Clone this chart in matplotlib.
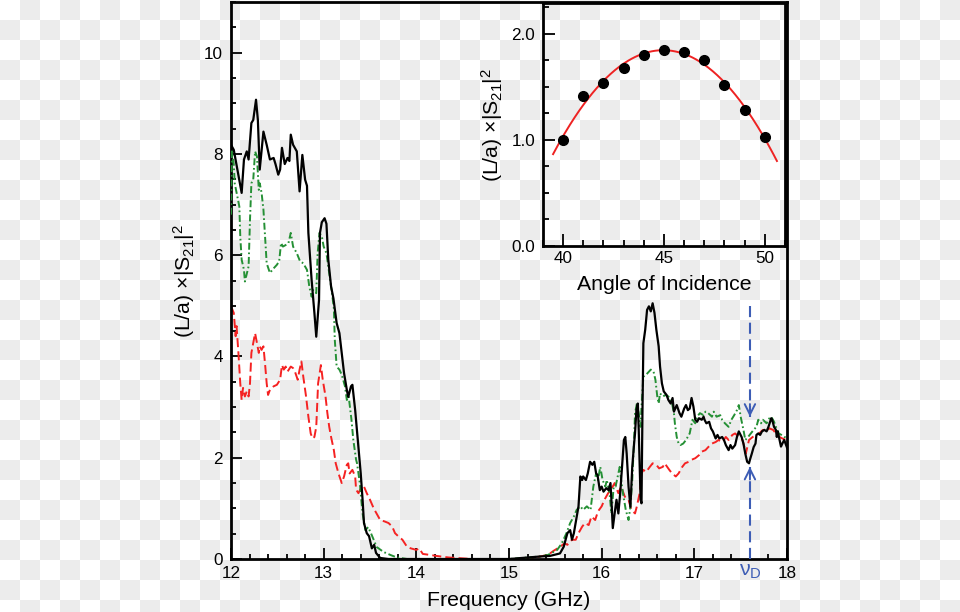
import numpy as np
import matplotlib
matplotlib.use("Agg")
import matplotlib.pyplot as plt
from matplotlib.ticker import MultipleLocator, FormatStrFormatter

plt.rcParams['font.family'] = ['Liberation Sans', 'DejaVu Sans']
plt.rcParams['mathtext.fontset'] = 'custom'
plt.rcParams['mathtext.rm'] = 'Liberation Sans'
plt.rcParams['mathtext.it'] = 'Liberation Sans:italic'
plt.rcParams['lines.scale_dashes'] = False

# ---------------- data ----------------
black_f = [12.00, 12.03, 12.115, 12.14, 12.17, 12.19, 12.22, 12.24, 12.27, 12.29, 12.31, 12.35, 12.385,
           12.42, 12.46, 12.48, 12.51, 12.53, 12.55, 12.58, 12.61, 12.63, 12.645, 12.67, 12.71, 12.74,
           12.77, 12.80, 12.82, 12.835, 12.87, 12.90, 12.92, 12.95, 12.96, 12.98, 13.01, 13.03, 13.05,
           13.08, 13.105, 13.14, 13.17, 13.195, 13.22, 13.25, 13.265, 13.295, 13.31, 13.34, 13.375,
           13.40, 13.42, 13.435, 13.465, 13.49, 13.52, 13.545, 13.565, 13.61, 13.70, 14.50, 15.00,
           15.34, 15.44, 15.55, 15.59, 15.62, 15.63, 15.66, 15.68, 15.70, 15.725, 15.75, 15.77, 15.79,
           15.80, 15.83, 15.85, 15.875, 15.90, 15.92, 15.94, 15.955, 15.98, 16.00, 16.02, 16.05, 16.075,
           16.095, 16.105, 16.12, 16.14, 16.16, 16.18, 16.20, 16.22, 16.24, 16.255, 16.27, 16.29, 16.31,
           16.33, 16.35, 16.36, 16.375, 16.39, 16.40, 16.42, 16.43, 16.44, 16.45, 16.47, 16.49, 16.51,
           16.53, 16.55, 16.57, 16.59, 16.615, 16.63, 16.65, 16.67, 16.70, 16.72, 16.745, 16.765, 16.78,
           16.81, 16.84, 16.86, 16.89, 16.91, 16.93, 16.95, 16.97, 16.99, 17.01, 17.03, 17.05, 17.08,
           17.10, 17.11, 17.13, 17.16, 17.18, 17.20, 17.23, 17.25, 17.27, 17.30, 17.32, 17.34, 17.37,
           17.39, 17.41, 17.44, 17.46, 17.48, 17.51, 17.53, 17.55, 17.57, 17.59, 17.60, 17.62, 17.64,
           17.66, 17.67, 17.69, 17.71, 17.73, 17.755, 17.78, 17.80, 17.83, 17.84, 17.86, 17.88, 17.89,
           17.90, 17.935, 17.95, 17.97, 17.99, 18.00]
black_v = [8.18, 8.08, 7.23, 7.89, 8.05, 7.89, 8.61, 8.67, 9.07, 8.67, 7.69, 8.44, 8.18,
           7.89, 7.92, 7.80, 7.59, 7.69, 8.12, 7.80, 7.92, 7.86, 8.38, 8.18, 8.05, 7.26,
           7.98, 7.49, 7.37, 6.44, 5.51, 4.86, 4.39, 5.12, 6.44, 6.65, 6.73, 6.62, 5.91,
           5.38, 5.15, 4.66, 4.46, 4.07, 3.67, 3.34, 3.20, 3.41, 3.44, 2.94, 2.22,
           1.69, 1.17, 0.71, 0.51, 0.45, 0.21, 0.28, 0.12, 0.02, 0.00, 0.00, 0.00,
           0.05, 0.06, 0.11, 0.24, 0.44, 0.51, 0.57, 0.38, 0.51, 0.77, 1.04, 1.63, 1.56,
           1.63, 1.56, 1.69, 1.92, 1.86, 1.92, 1.69, 1.66, 1.36, 1.43, 1.33, 1.40, 1.36,
           1.50, 1.17, 0.61, 0.90, 1.17, 0.90, 1.30, 1.82, 2.35, 2.41, 2.08, 1.43, 1.03,
           1.82, 2.28, 2.48, 2.94, 3.07, 2.54, 1.17, 1.10, 2.88, 4.26, 4.53, 4.92, 4.99,
           4.89, 5.05, 4.86, 4.53, 4.20, 3.80, 3.47, 3.31, 3.24, 3.14, 3.07, 3.18, 2.91,
           3.04, 2.88, 2.81, 2.97, 3.04, 2.94, 2.97, 3.18, 3.01, 2.75, 2.71, 2.78, 2.75,
           2.81, 2.75, 2.68, 2.71, 2.58, 2.52, 2.38, 2.45, 2.38, 2.41, 2.35, 2.25, 2.15,
           2.25, 2.18, 2.25, 2.41, 2.52, 2.41, 2.28, 2.08, 1.92, 1.89, 1.96, 2.08, 2.21,
           2.28, 2.45, 2.48, 2.45, 2.52, 2.55, 2.52, 2.61, 2.78, 2.75, 2.61, 2.55, 2.41,
           2.52, 2.22, 2.28, 2.35, 2.25, 2.20]

green_f = [12.00, 12.01, 12.03, 12.04, 12.09, 12.10, 12.115, 12.14, 12.15, 12.19, 12.205, 12.22, 12.24,
           12.26, 12.28, 12.30, 12.31, 12.33, 12.35, 12.37, 12.385, 12.42, 12.46, 12.495, 12.52, 12.54,
           12.56, 12.60, 12.62, 12.645, 12.67, 12.71, 12.745, 12.78, 12.82, 12.845, 12.87, 12.885, 12.92,
           12.935, 12.955, 12.98, 13.00, 13.03, 13.05, 13.09, 13.11, 13.12, 13.14, 13.17, 13.195, 13.23,
           13.25, 13.27, 13.30, 13.32, 13.35, 13.36, 13.39, 13.42, 13.45, 13.48, 13.51, 13.54, 13.57,
           13.645, 13.72, 13.79, 13.90, 15.00, 15.34, 15.42, 15.52, 15.57, 15.62, 15.66, 15.70, 15.73,
           15.77, 15.80, 15.84, 15.88, 15.91, 15.94, 15.96, 15.985, 16.01, 16.04, 16.055, 16.085, 16.105,
           16.13, 16.15, 16.18, 16.195, 16.21, 16.23, 16.26, 16.29, 16.31, 16.33, 16.35, 16.36, 16.38,
           16.40, 16.42, 16.43, 16.45, 16.48, 16.51, 16.53, 16.56, 16.58, 16.60, 16.615, 16.63, 16.66,
           16.69, 16.72, 16.76, 16.78, 16.79, 16.81, 16.83, 16.85, 16.88, 16.91, 16.95, 16.98, 17.01,
           17.03, 17.06, 17.10, 17.12, 17.15, 17.19, 17.21, 17.24, 17.28, 17.30, 17.33, 17.37, 17.40,
           17.43, 17.46, 17.48, 17.50, 17.53, 17.55, 17.58, 17.61, 17.64, 17.67, 17.69, 17.72, 17.74,
           17.78, 17.81, 17.83, 17.86, 17.88, 17.91, 17.94, 17.97, 18.00]
green_v = [6.80, 8.05, 7.80, 7.42, 6.96, 6.37, 5.91, 5.71, 5.48, 5.78, 6.70, 7.42, 7.49,
           8.05, 7.95, 7.29, 7.42, 7.23, 6.90, 6.30, 5.84, 5.65, 5.74, 5.81, 5.88, 6.24,
           6.17, 6.21, 6.24, 6.44, 6.17, 6.04, 5.88, 5.84, 5.71, 5.38, 5.18, 5.31, 5.25,
           6.04, 6.44, 6.37, 6.17, 6.04, 5.78, 5.25, 4.95, 4.33, 3.80, 3.74, 3.64, 3.41,
           3.14, 3.21, 2.75, 2.35, 1.96, 1.89, 1.50, 0.90, 0.57, 0.63, 0.51, 0.38, 0.24,
           0.14, 0.08, 0.03, 0.00, 0.00, 0.05, 0.08, 0.18, 0.31, 0.51, 0.71, 0.84, 0.97,
           1.04, 0.97, 1.04, 0.97, 1.43, 1.69, 1.56, 1.82, 1.56, 1.43, 1.56, 1.30, 0.90,
           1.43, 1.43, 1.69, 1.82, 1.56, 1.30, 0.97, 0.77, 1.04, 1.56, 2.35, 2.88, 3.07,
           2.88, 2.61, 3.01, 3.60, 3.64, 3.70, 3.74, 3.70, 3.54, 3.21, 3.07, 3.27, 3.21,
           3.24, 3.21, 3.07, 2.88, 2.68, 2.41, 2.28, 2.25, 2.28, 2.35, 2.48, 2.75, 2.68,
           2.81, 2.88, 2.84, 2.91, 2.88, 2.81, 2.91, 2.81, 2.84, 2.75, 2.68, 2.61, 2.75,
           2.84, 2.94, 3.04, 2.81, 2.55, 2.35, 2.41, 2.48, 2.55, 2.61, 2.75, 2.68, 2.75,
           2.68, 2.78, 2.81, 2.71, 2.61, 2.48, 2.45, 2.41, 2.40]

red_f = [12.00, 12.03, 12.05, 12.06, 12.08, 12.10, 12.115, 12.13, 12.15, 12.17, 12.19, 12.205, 12.22,
         12.24, 12.26, 12.28, 12.30, 12.31, 12.33, 12.35, 12.37, 12.385, 12.40, 12.42, 12.46, 12.495,
         12.53, 12.55, 12.57, 12.59, 12.61, 12.645, 12.67, 12.69, 12.72, 12.74, 12.76, 12.78, 12.81,
         12.835, 12.86, 12.88, 12.90, 12.92, 12.94, 12.97, 12.99, 13.02, 13.04, 13.06, 13.08, 13.11,
         13.13, 13.16, 13.195, 13.22, 13.25, 13.265, 13.28, 13.31, 13.34, 13.35, 13.375, 13.41, 13.435,
         13.465, 13.50, 13.54, 13.57, 13.61, 13.66, 13.70, 13.74, 13.77, 13.81, 13.85, 13.90, 13.94,
         14.00, 14.03, 14.07, 14.15, 14.22, 14.35, 14.60, 15.20, 15.34, 15.42, 15.48, 15.55, 15.60,
         15.63, 15.68, 15.72, 15.75, 15.79, 15.82, 15.86, 15.89, 15.93, 15.96, 16.00, 16.03, 16.07,
         16.11, 16.14, 16.18, 16.21, 16.25, 16.29, 16.32, 16.36, 16.38, 16.41, 16.43, 16.45, 16.48,
         16.52, 16.55, 16.59, 16.62, 16.66, 16.68, 16.73, 16.76, 16.80, 16.83, 16.87, 16.90, 16.94,
         16.97, 17.01, 17.05, 17.08, 17.12, 17.15, 17.19, 17.23, 17.26, 17.30, 17.34, 17.37, 17.41,
         17.44, 17.48, 17.52, 17.54, 17.555, 17.59, 17.63, 17.67, 17.70, 17.74, 17.77, 17.81, 17.85,
         17.88, 17.92, 17.95, 17.99]
red_v = [4.99, 4.86, 4.40, 4.60, 4.07, 3.47, 3.14, 3.38, 3.21, 3.31, 3.21, 3.47, 4.07,
         4.26, 4.46, 4.26, 4.07, 4.20, 4.13, 4.20, 3.80, 3.47, 3.24, 3.34, 3.41, 3.44,
         3.54, 3.83, 3.74, 3.80, 3.70, 3.80, 3.77, 3.70, 3.54, 3.74, 3.90, 3.60, 3.21,
         2.81, 2.48, 2.38, 2.41, 2.61, 3.47, 3.83, 3.54, 3.21, 2.88, 2.61, 2.41, 2.15,
         1.89, 1.69, 1.50, 1.63, 1.86, 1.89, 1.69, 1.76, 1.63, 1.37, 1.30, 1.43, 1.43,
         1.30, 1.17, 1.00, 0.90, 0.77, 0.74, 0.71, 0.64, 0.51, 0.44, 0.38, 0.24, 0.21,
         0.18, 0.21, 0.10, 0.08, 0.06, 0.03, 0.00, 0.00, 0.05, 0.08, 0.16, 0.24, 0.31,
         0.28, 0.38, 0.38, 0.51, 0.64, 0.71, 0.67, 0.84, 0.77, 0.94, 1.04, 1.17, 1.30,
         1.40, 1.50, 1.30, 1.43, 1.23, 1.17, 0.97, 0.90, 1.04, 1.30, 1.69, 1.76, 1.72,
         1.82, 1.89, 1.86, 1.79, 1.82, 1.89, 1.76, 1.69, 1.63, 1.69, 1.82, 1.89, 1.92,
         1.96, 1.99, 2.05, 2.12, 2.15, 2.21, 2.28, 2.31, 2.35, 2.31, 2.41, 2.35, 2.45,
         2.48, 2.41, 2.35, 2.21, 2.08, 2.35, 2.41, 2.45, 2.48, 2.55, 2.52, 2.58, 2.55,
         2.48, 2.41, 2.38, 2.35]

# inset: peak transmission vs angle of incidence
angles = [40, 41, 42, 43, 44, 45, 46, 47, 48, 49, 50]
peak_vals = [1.00, 1.415, 1.535, 1.68, 1.80, 1.85, 1.83, 1.75, 1.515, 1.28, 1.03]
fit_range = [39.5, 50.6]

# annotation: Dirac frequency marker
nu_d = 17.6
upper_arrow = [5.0, 2.81]
lower_arrow = [0.0, 1.82]

x_ticks = [12, 13, 14, 15, 16, 17, 18]
y_ticks = [0, 2, 4, 6, 8, 10]
inset_xticks = [40, 45, 50]
inset_yticks = [0.0, 1.0, 2.0]

ylabel_text = '(L/a) ×|S$_{\\mathregular{21}}$|$^{\\mathregular{2}}$'

TICK_FS = 12.3
LABEL_FS = 15.3

# ---------------- figure ----------------
W, H = 960, 612
fig = plt.figure(figsize=(W / 100, H / 100), dpi=100)
rows = np.arange(H) // 20
cols = np.arange(W) // 20
mask = (rows[:, None] + cols[None, :]) % 2 == 1
bg = np.full((H, W, 3), 255, dtype=np.uint8)
bg[mask] = 236
fig.figimage(bg, xo=0, yo=0, origin='upper', zorder=-10)

ax = fig.add_axes([231 / W, 53 / H, 556 / W, 557 / H])
ax.set_facecolor('none')
ax.set_zorder(1)

ax.plot(red_f, red_v, color='#f52222', lw=1.4, dashes=(6.5, 3), zorder=2)
ax.plot(green_f, green_v, color='#259035', lw=1.4, dashes=(5, 2, 1.2, 2), zorder=3)
ax.plot(black_f, black_v, color='black', lw=1.6, zorder=4)

ax.set_xlim(12, 18)
ax.set_ylim(0, 11)
ax.set_xticks(x_ticks)
ax.set_yticks(y_ticks)
ax.xaxis.set_minor_locator(MultipleLocator(0.2))
ax.yaxis.set_minor_locator(MultipleLocator(0.5))
ax.tick_params(which='both', direction='in', top=False, right=False, labelsize=TICK_FS, width=1.3)
ax.tick_params(which='major', length=8)
ax.tick_params(which='minor', length=3.8)
ax.tick_params(axis='x', pad=5)
ax.tick_params(axis='y', pad=6)
for sp in ax.spines.values():
    sp.set_linewidth(2.0)

ax.set_xlabel('Frequency (GHz)', fontsize=LABEL_FS)
ax.set_ylabel(ylabel_text, fontsize=LABEL_FS)
ax.xaxis.set_label_coords(0.5, -0.057)
ax.yaxis.set_label_coords(-0.062, 0.5)

blue = '#3d5db5'
ax.plot([nu_d, nu_d], upper_arrow, color=blue, lw=1.5, dashes=(8, 4), zorder=5)
ax.plot([nu_d, nu_d], lower_arrow, color=blue, lw=1.5, dashes=(8, 4), zorder=5, clip_on=False)
for (y0, y1) in (upper_arrow, lower_arrow):
    d = 0.25 if y1 < y0 else -0.25
    ax.annotate('', xy=(nu_d, y1), xytext=(nu_d, y1 + d),
                arrowprops=dict(arrowstyle='->,head_length=0.5,head_width=0.25', color=blue,
                                lw=1.4, mutation_scale=15, shrinkA=0, shrinkB=0), zorder=6)
ax.text(nu_d, -0.006, 'ν$_{\\mathregular{D}}$', color=blue, fontsize=LABEL_FS,
        transform=ax.get_xaxis_transform(), ha='center', va='top')

# ---------------- inset ----------------
ins = fig.add_axes([543 / W, (H - 246) / H, 242 / W, 243 / H])
ins.set_facecolor('none')
ins.set_zorder(2)
coef = np.polyfit(angles, peak_vals, 2)
xf = np.linspace(fit_range[0], fit_range[1], 200)
ins.plot(xf, np.polyval(coef, xf), color='#ee2222', lw=1.4, zorder=2)
ins.plot(angles, peak_vals, 'o', color='black', ms=7, zorder=3)
ins.set_xlim(39, 51)
ins.set_ylim(0, 2.29)
ins.set_xticks(inset_xticks)
ins.set_yticks(inset_yticks)
ins.yaxis.set_major_formatter(FormatStrFormatter('%.1f'))
ins.xaxis.set_minor_locator(MultipleLocator(1))
ins.yaxis.set_minor_locator(MultipleLocator(0.25))
ins.tick_params(which='both', direction='in', top=False, right=False, labelsize=TICK_FS, width=1.3)
ins.tick_params(which='major', length=8.5)
ins.tick_params(which='minor', length=4.5)
ins.tick_params(axis='x', pad=3.5)
ins.tick_params(axis='y', pad=5.5)
for sp in ins.spines.values():
    sp.set_linewidth(2.0)
ins.set_xlabel('Angle of Incidence', fontsize=LABEL_FS)
ins.set_ylabel(ylabel_text, fontsize=LABEL_FS)
ins.xaxis.set_label_coords(0.5, -0.12)
ins.yaxis.set_label_coords(-0.155, 0.5)

fig.savefig('out.png', dpi=100)
